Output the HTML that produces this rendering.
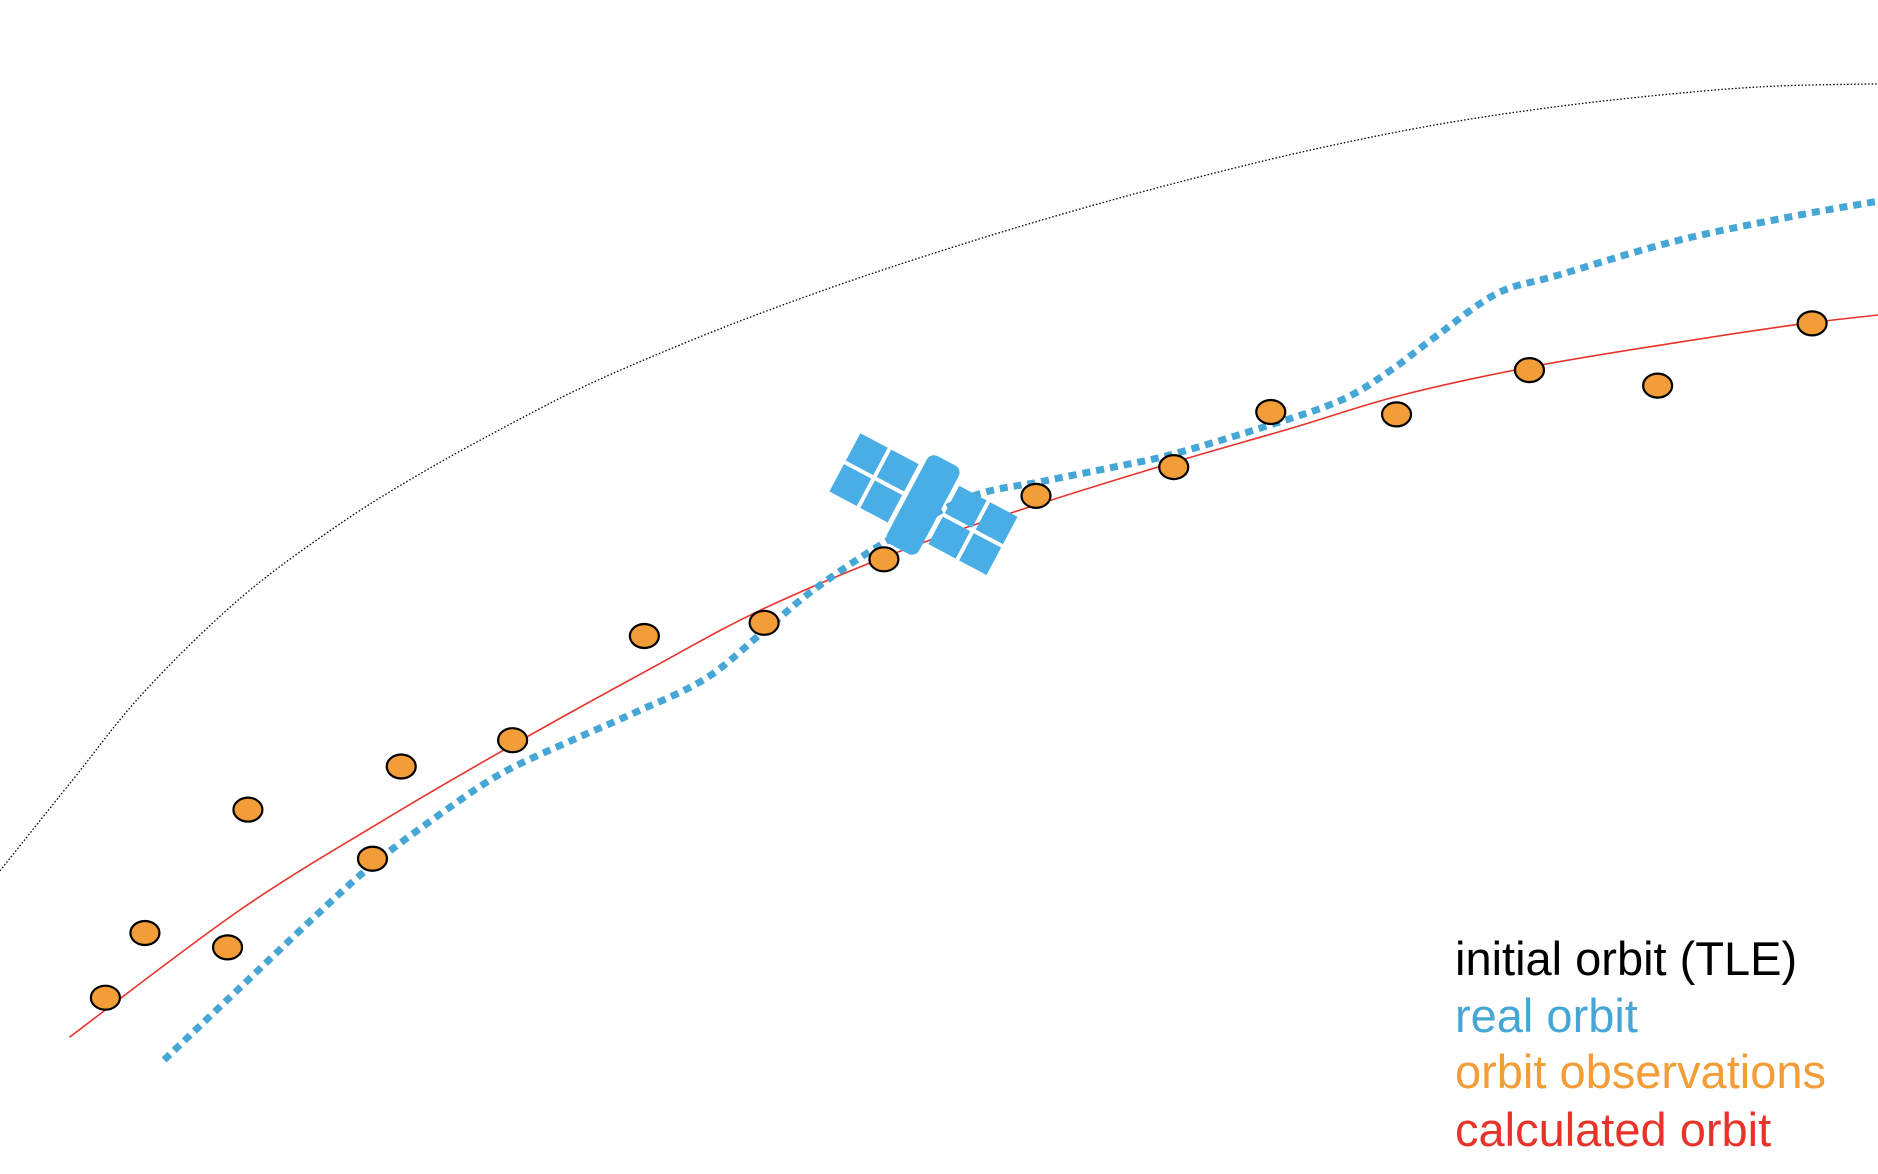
<!DOCTYPE html>
<html><head><meta charset="utf-8"><style>
html,body{margin:0;padding:0;background:#fff;width:1878px;height:1174px;overflow:hidden}
svg{display:block}
text{font-family:"Liberation Sans",Arial,sans-serif}
</style></head><body>
<svg id="chart" width="1878" height="1174" viewBox="0 0 1878 1174" xmlns="http://www.w3.org/2000/svg">
<g id="lines"></g>
<g id="obs"></g>
<g transform="translate(923,505) rotate(28)" fill="#4aaee6">
  <rect x="-18" y="-50" width="36" height="100" rx="8"/>
  <rect x="-89" y="-34" width="31" height="31"/><rect x="-54" y="-34" width="31" height="31"/>
  <rect x="-89" y="1" width="31" height="31"/><rect x="-54" y="1" width="31" height="31"/>
  <rect x="23" y="-34" width="31" height="31"/><rect x="58" y="-34" width="31" height="31"/>
  <rect x="23" y="1" width="31" height="31"/><rect x="58" y="1" width="31" height="31"/>
</g>
<g font-size="47">
  <text x="1455" y="975" fill="#000">initial orbit (TLE)</text>
  <text x="1455" y="1032" fill="#46a6d6">real orbit</text>
  <text x="1455" y="1088" fill="#f29d38">orbit observations</text>
  <text x="1455" y="1146" fill="#e8332a">calculated orbit</text>
</g>
</svg>
<script>
const obsX=[88,121,190,207,311,335,428,538,638,738,865,980,1061,1166,1277,1384,1513];
const obsY=[833,779,791,676,717,640,618,531,520,467,414,390,344,346,309,322,270];
const calcX=[58,200,320,428,540,638,760,870,980,1080,1170,1280,1400,1500,1568];
const calcY=[866,760,685,622,560,508,457,420,386,357,330,306,286,271,263];
const realX=[137,200,260,311,370,420,480,530,590,640,680,740,810,870,930,980,1060,1120,1160,1200,1250,1300,1400,1500,1568];
const realY=[885,825,768,722,678,645,617,595,566,525,492,452,415,402,390,379,355,334,310,280,245,230,201,180,168];
const initX=[0,60,120,200,280,350,430,500,600,700,800,900,1000,1100,1200,1300,1400,1480,1568];
const initY=[727,652,578,500,440,396,352,317,275,238,205,175,148,124,104,89,78,72,70];
const S=1878/1568;
const sx=v=>v*S, sy=v=>v*S;
const NS="http://www.w3.org/2000/svg";
function smooth(xs,ys){
  const p=xs.map((x,i)=>[sx(x),sy(ys[i])]);
  let d=`M${p[0][0]},${p[0][1]}`;
  for(let i=0;i<p.length-1;i++){
    const p0=p[i-1]||p[i],p1=p[i],p2=p[i+1],p3=p[i+2]||p2;
    const c1=[p1[0]+(p2[0]-p0[0])/6,p1[1]+(p2[1]-p0[1])/6];
    const c2=[p2[0]-(p3[0]-p1[0])/6,p2[1]-(p3[1]-p1[1])/6];
    d+=` C${c1[0]},${c1[1]} ${c2[0]},${c2[1]} ${p2[0]},${p2[1]}`;
  }
  return d;
}
const lines=document.getElementById('lines');
function addLine(xs,ys,stroke,w,dash,name){
  const el=document.createElementNS(NS,'path');
  el.setAttribute('d',smooth(xs,ys));
  el.setAttribute('fill','none');
  el.setAttribute('stroke',stroke);
  el.setAttribute('stroke-width',w);
  if(dash)el.setAttribute('stroke-dasharray',dash);
  
  
  lines.appendChild(el);
}
addLine(initX,initY,'#000',1.3,'1.5 2','initial-orbit-line');
addLine(calcX,calcY,'#e8332a',1.6,null,'calculated-orbit-line');
addLine(realX,realY,'#46a6d6',7,'8 6','real-orbit-line');
const og=document.getElementById('obs');
obsX.forEach((x,i)=>{
  const el=document.createElementNS(NS,'ellipse');
  el.setAttribute('cx',sx(x));el.setAttribute('cy',sy(obsY[i]));
  el.setAttribute('rx',14.5);el.setAttribute('ry',12);
  el.setAttribute('fill','#f29d38');el.setAttribute('stroke','#000');el.setAttribute('stroke-width',2.2);
  
  
  og.appendChild(el);
});
</script>
</body></html>
